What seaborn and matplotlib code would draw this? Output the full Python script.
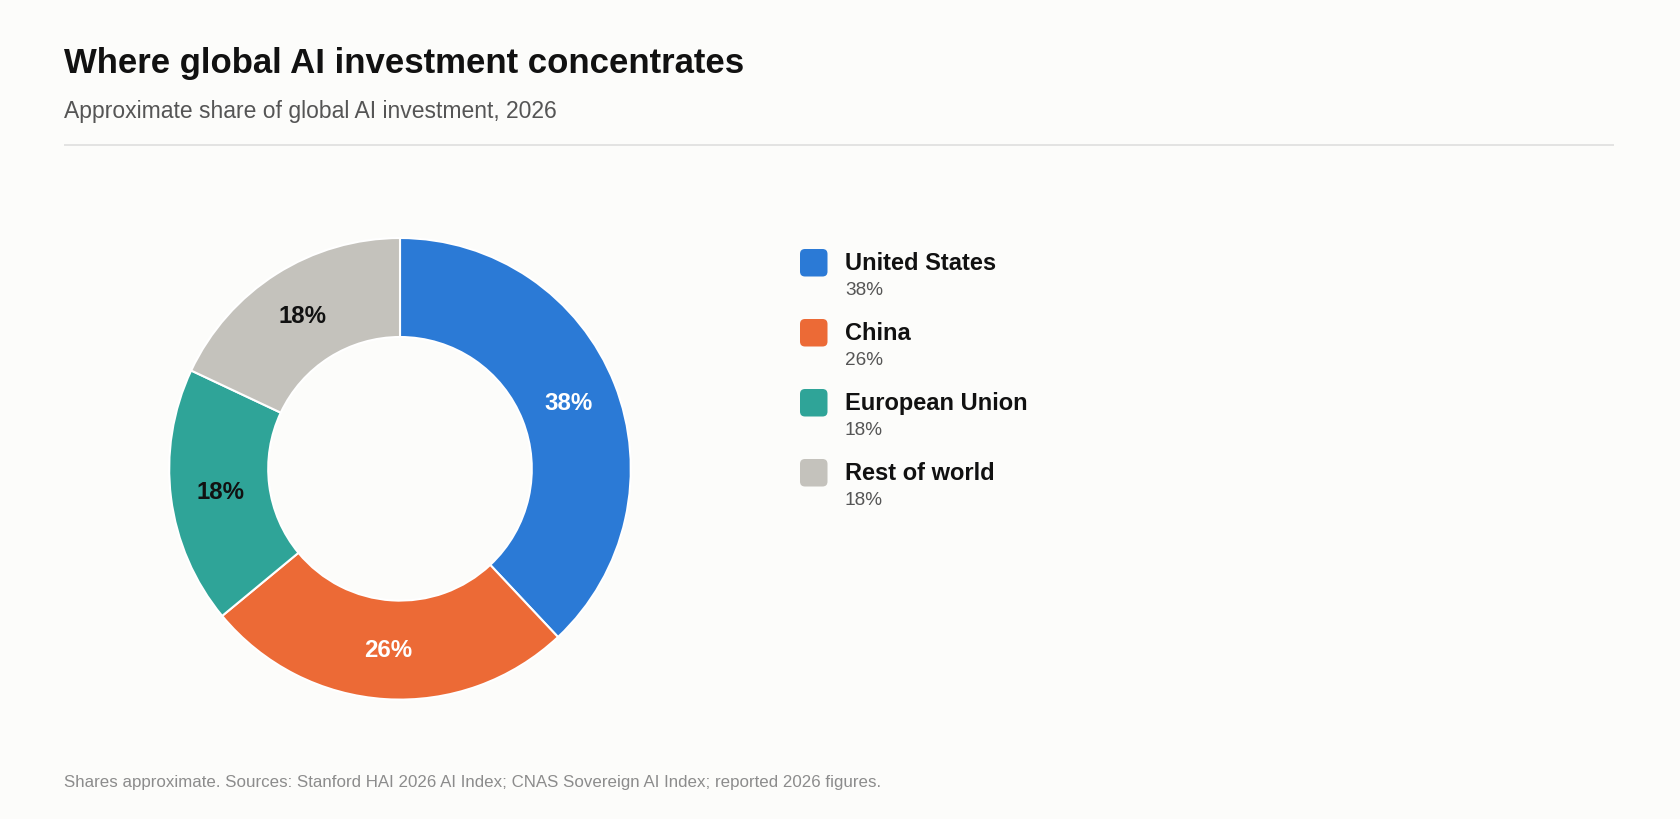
import matplotlib
matplotlib.use("Agg")
import matplotlib.pyplot as plt
import seaborn as sns
from matplotlib.patches import FancyBboxPatch

# Data
regions = ["United States", "China", "European Union", "Rest of world"]
shares = [38, 26, 18, 18]
colors = ["#2b7ad6", "#ec6a36", "#2fa498", "#c4c2bc"]
label_colors = ["white", "white", "#111111", "#111111"]

title = "Where global AI investment concentrates"
subtitle = "Approximate share of global AI investment, 2026"
footer = "Shares approximate. Sources: Stanford HAI 2026 AI Index; CNAS Sovereign AI Index; reported 2026 figures."

sns.set_theme(style="white")
plt.rcParams["font.family"] = ["Liberation Sans", "DejaVu Sans"]

W, H = 1680, 820
bg = "#fcfcfa"
fig = plt.figure(figsize=(W / 100, H / 100), dpi=100, facecolor=bg)

# overlay axes in pixel coordinates for titles, legend, footer
ov = fig.add_axes([0, 0, 1, 1])
ov.set_xlim(0, W)
ov.set_ylim(H, 0)
ov.axis("off")

ov.text(64, 73, title, fontsize=25, fontweight="bold", color="#111111", va="baseline")
ov.text(64, 118, subtitle, fontsize=16.5, color="#555555", va="baseline")
ov.plot([64, 1614], [146, 146], color="#dedede", lw=1.2, solid_capstyle="butt")
ov.text(64, 787, footer, fontsize=12.2, color="#8c8c8c", va="baseline")

# legend
for i, (name, val, col) in enumerate(zip(regions, shares, colors)):
    y0 = 250 + i * 70
    ov.add_patch(FancyBboxPatch((800, y0), 27.5, 27.5,
                                boxstyle="round,pad=0,rounding_size=5",
                                facecolor=col, edgecolor="none"))
    ov.text(845, y0 + 20.5, name, fontsize=17, fontweight="bold",
            color="#111111", va="baseline")
    ov.text(845, y0 + 45, f"{val}%", fontsize=13.7, color="#555555", va="baseline")

# donut
cx, cy, r = 400, 469.8, 230.8
pad = 1.1
size = 2 * r * pad
ax = fig.add_axes([(cx - size / 2) / W, (H - cy - size / 2) / H, size / W, size / H])
ax.set_facecolor("none")
wedges, texts, autotexts = ax.pie(
    shares, colors=colors, startangle=90, counterclock=False, radius=1,
    autopct="%.0f%%", pctdistance=0.786,
    wedgeprops=dict(width=0.429, edgecolor="white", linewidth=1.5),
)
for t, c in zip(autotexts, label_colors):
    t.set_color(c)
    t.set_fontsize(17.3)
    t.set_fontweight("bold")
ax.set_xlim(-pad, pad)
ax.set_ylim(-pad, pad)
ax.set_aspect("equal")
ax.axis("off")

fig.savefig("out.png", dpi=100, facecolor=bg)
